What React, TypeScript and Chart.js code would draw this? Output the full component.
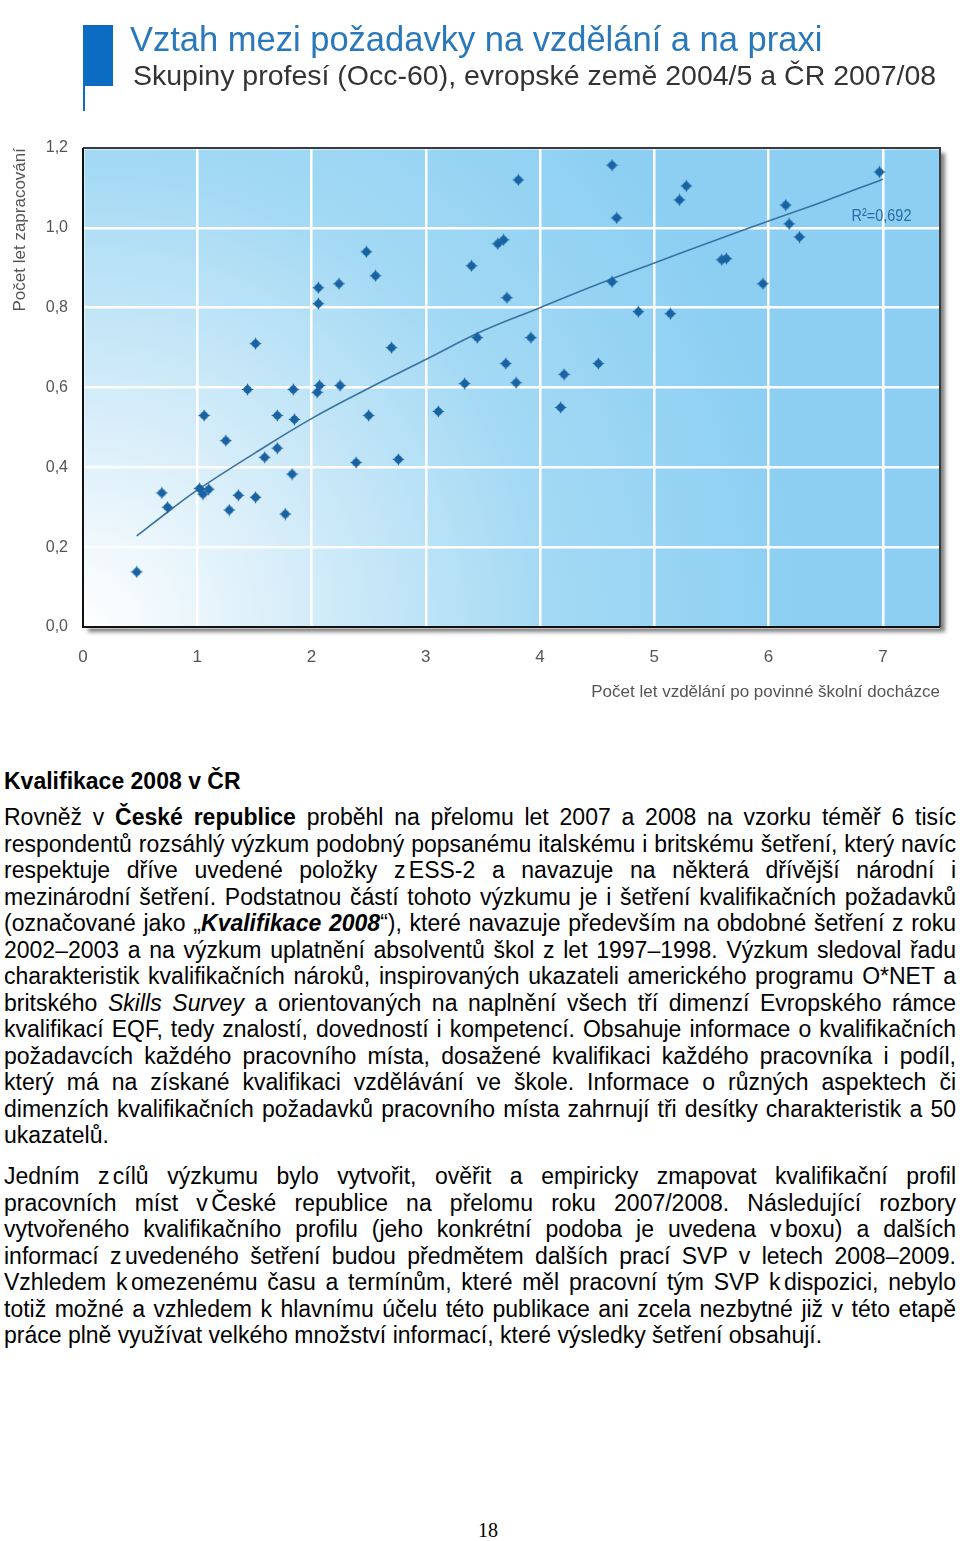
import React, { useEffect, useRef } from 'react';
import { Chart, registerables } from 'chart.js';

Chart.register(...registerables);

// ---- chart data ----
const occX = [
  0.47, 0.69, 0.74, 1.02, 1.05, 1.10, 1.06, 1.25, 1.28, 1.36,
  1.44, 1.51, 1.51, 1.59, 1.70, 1.70, 1.77, 1.83, 1.84, 1.85,
  2.05, 2.07, 2.06, 2.06, 2.24, 2.25, 2.39, 2.48, 2.50, 2.56,
  2.70, 2.76, 3.11, 3.34, 3.40, 3.45, 3.63, 3.68, 3.70, 3.71,
  3.79, 3.81, 3.92, 4.18, 4.21, 4.51, 4.63, 4.63, 4.67, 4.86,
  5.14, 5.22, 5.28, 5.59, 5.63, 5.95, 6.15, 6.18, 6.27, 6.97,
];
const occY = [
  0.138, 0.336, 0.300, 0.347, 0.333, 0.345, 0.530, 0.467, 0.293, 0.330,
  0.595, 0.710, 0.325, 0.425, 0.530, 0.448, 0.283, 0.383, 0.595, 0.520,
  0.588, 0.605, 0.810, 0.850, 0.860, 0.605, 0.412, 0.940, 0.530, 0.880,
  0.700, 0.420, 0.540, 0.610, 0.905, 0.725, 0.960, 0.970, 0.660, 0.825,
  0.612, 1.120, 0.725, 0.550, 0.633, 0.660, 1.157, 0.865, 1.025, 0.790,
  0.785, 1.070, 1.105, 0.920, 0.923, 0.860, 1.057, 1.010, 0.977, 1.140,
];
const trendX = [0.47, 0.75, 1, 1.5, 2, 2.5, 3, 3.5, 4, 4.5, 5, 5.5, 6, 6.5, 7];
const trendY = [0.228, 0.29, 0.343, 0.435, 0.522, 0.598, 0.67, 0.742, 0.8, 0.858, 0.912, 0.965, 1.017, 1.068, 1.122];
const xTickValues = [0, 1, 2, 3, 4, 5, 6, 7];
const yTickValues = [0, 0.2, 0.4, 0.6, 0.8, 1.0, 1.2];
const xRange = [0, 7.5];
const yRange = [0, 1.2];
const r2Label = 'R²=0,692';
const r2Pos = [7.25, 1.03];

const chartTitle = 'Vztah mezi požadavky na vzdělání a na praxi';
const chartSubtitle = 'Skupiny profesí (Occ-60), evropské země 2004/5 a ČR 2007/08';
const xAxisTitle = 'Počet let vzdělání po povinné školní docházce';
const yAxisTitle = 'Počet let zapracování';

const FONT = "'Liberation Sans', Arial, sans-serif";

function makeMarker(color: string) {
  const c = document.createElement('canvas');
  c.width = 13;
  c.height = 13;
  const g = c.getContext('2d')!;
  g.fillStyle = color;
  g.beginPath();
  g.moveTo(6.5, 0.3);
  g.lineTo(8.6, 4.4);
  g.lineTo(12.7, 6.5);
  g.lineTo(8.6, 8.6);
  g.lineTo(6.5, 12.7);
  g.lineTo(4.4, 8.6);
  g.lineTo(0.3, 6.5);
  g.lineTo(4.4, 4.4);
  g.closePath();
  g.fill();
  g.beginPath();
  g.arc(6.5, 6.5, 3.8, 0, Math.PI * 2);
  g.fill();
  return c;
}

const plotDecor = {
  id: 'plotDecor',
  beforeDraw(chart: any) {
    const { ctx, chartArea: a } = chart;
    const w = a.right - a.left;
    const h = a.bottom - a.top;
    ctx.save();
    const grad = ctx.createRadialGradient(a.left, a.bottom, 0, a.left, a.bottom, 720);
    grad.addColorStop(0, '#ffffff');
    grad.addColorStop(0.3, '#d6edf9');
    grad.addColorStop(0.65, '#a3d9f4');
    grad.addColorStop(1, '#8ccff2');
    ctx.shadowColor = 'rgba(0,0,0,0.5)';
    ctx.shadowBlur = 4;
    ctx.shadowOffsetX = 5;
    ctx.shadowOffsetY = 5;
    ctx.fillStyle = grad;
    ctx.fillRect(a.left, a.top, w, h);
    ctx.restore();
  },
  afterDraw(chart: any) {
    const { ctx, chartArea: a, scales } = chart;
    ctx.save();
    ctx.lineWidth = 2;
    ctx.strokeStyle = '#3a3a3a';
    ctx.beginPath();
    ctx.moveTo(a.left, a.top);
    ctx.lineTo(a.right, a.top);
    ctx.lineTo(a.right, a.bottom);
    ctx.stroke();
    ctx.strokeStyle = '#111111';
    ctx.beginPath();
    ctx.moveTo(a.left, a.top);
    ctx.lineTo(a.left, a.bottom);
    ctx.lineTo(a.right, a.bottom);
    ctx.stroke();
    // R² label
    const px = scales.x.getPixelForValue(r2Pos[0]);
    const py = scales.y.getPixelForValue(r2Pos[1]);
    ctx.translate(px, py);
    ctx.scale(0.85, 1);
    ctx.font = `17px ${FONT}`;
    ctx.fillStyle = '#2a6aa5';
    ctx.textAlign = 'right';
    ctx.textBaseline = 'middle';
    ctx.fillText(r2Label, 0, 0);
    ctx.restore();
  },
};

const NB = ({ children }: { children: React.ReactNode }) => (
  <span style={{ display: 'inline-block', wordSpacing: '-3px' }}>{children}</span>
);

const Line = ({ children, last }: { children: React.ReactNode; last?: boolean }) => (
  <div style={{ textAlign: 'justify', textAlignLast: last ? 'left' : 'justify', height: 26.5 } as any}>
    {children}
  </div>
);

export default function App() {
  const ref = useRef<HTMLCanvasElement>(null);

  useEffect(() => {
    if (!ref.current) return;
    const marker = makeMarker('#1a63a3');
    const scatterData = occX.map((x, i) => ({ x, y: occY[i] }));
    const trendData = trendX.map((x, i) => ({ x, y: trendY[i] }));
    const chart = new Chart(ref.current, {
      type: 'scatter',
      data: {
        datasets: [
          {
            type: 'line',
            label: 'trend',
            data: trendData,
            showLine: true,
            borderColor: '#3a72a3',
            borderWidth: 1.6,
            pointRadius: 0,
            tension: 0.4,
            fill: false,
            order: 2,
          } as any,
          {
            label: 'Occ-60',
            data: scatterData,
            pointStyle: marker as any,
            pointRadius: 6,
            backgroundColor: '#1a63a3',
            borderColor: '#1a63a3',
            order: 1,
          },
        ],
      },
      options: {
        animation: false,
        responsive: false,
        maintainAspectRatio: false,
        layout: { padding: { left: 8, right: 20, top: 148, bottom: 13 } },
        plugins: {
          legend: { display: false },
          tooltip: { enabled: false },
        },
        scales: {
          x: {
            type: 'linear',
            min: xRange[0],
            max: xRange[1],
            afterBuildTicks: (s: any) => {
              s.ticks = xTickValues.map((v) => ({ value: v }));
            },
            afterFit: (s: any) => {
              s.height = 80;
            },
            ticks: {
              color: '#555555',
              font: { family: FONT, size: 17 },
              padding: 20,
              maxRotation: 0,
              autoSkip: false,
              callback: (v: any) => String(v),
            },
            grid: { color: '#ffffff', lineWidth: 2.5, drawTicks: false },
            border: { display: false },
            title: {
              display: true,
              text: xAxisTitle,
              align: 'end',
              color: '#555555',
              font: { family: FONT, size: 17 },
              padding: { top: 4, bottom: 4 },
            },
          },
          y: {
            type: 'linear',
            min: yRange[0],
            max: yRange[1],
            afterBuildTicks: (s: any) => {
              s.ticks = yTickValues.map((v) => ({ value: v }));
            },
            afterFit: (s: any) => {
              s.width = 75;
            },
            ticks: {
              color: '#555555',
              font: { family: FONT, size: 16 },
              padding: 15,
              callback: (v: any) => Number(v).toFixed(1).replace('.', ','),
            },
            grid: { color: '#ffffff', lineWidth: 2.5, drawTicks: false },
            border: { display: false },
            title: {
              display: true,
              text: yAxisTitle,
              align: 'end',
              color: '#555555',
              font: { family: FONT, size: 17 },
              padding: { top: 2, bottom: 2 },
            },
          },
        },
      } as any,
      plugins: [plotDecor],
    });
    return () => chart.destroy();
  }, []);

  return (
    <div
      style={{
        position: 'absolute',
        left: 0,
        top: 0,
        width: 960,
        height: 1541,
        background: '#ffffff',
        fontFamily: FONT,
        color: '#000',
      }}
    >
      <canvas
        ref={ref}
        width={960}
        height={720}
        style={{ position: 'absolute', left: 0, top: 0, width: 960, height: 720 }}
      />
      <div style={{ position: 'absolute', left: 83, top: 25, width: 30, height: 61, background: '#0b6cc1' }} />
      <div style={{ position: 'absolute', left: 83, top: 25, width: 2, height: 86, background: '#0b6cc1' }} />
      <div
        style={{
          position: 'absolute',
          left: 130,
          top: 22,
          fontSize: 34.5,
          lineHeight: '34.5px',
          color: '#2878bb',
          whiteSpace: 'nowrap',
        }}
      >
        {chartTitle}
      </div>
      <div
        style={{
          position: 'absolute',
          left: 133,
          top: 60.5,
          fontSize: 28.5,
          lineHeight: '28.5px',
          color: '#333333',
          whiteSpace: 'nowrap',
        }}
      >
        {chartSubtitle}
      </div>

      <div style={{ position: 'absolute', left: 4, width: 952, top: 767.5, fontSize: 23, lineHeight: '26.5px', fontWeight: 'bold' }}>
        Kvalifikace 2008 v ČR
      </div>

      <div style={{ position: 'absolute', left: 4, width: 952, top: 804, fontSize: 23, lineHeight: '26.5px' }}>
        <Line>
          Rovněž v <b>České republice</b> proběhl na přelomu let 2007 a 2008 na vzorku téměř 6 tisíc
        </Line>
        <Line>respondentů rozsáhlý výzkum podobný popsanému italskému i britskému šetření, který navíc</Line>
        <Line>
          respektuje dříve uvedené položky <NB>z ESS-2</NB> a navazuje na některá dřívější národní i
        </Line>
        <Line>mezinárodní šetření. Podstatnou částí tohoto výzkumu je i šetření kvalifikačních požadavků</Line>
        <Line>
          (označované jako „<b><i>Kvalifikace 2008</i></b>“), které navazuje především na obdobné šetření z roku
        </Line>
        <Line>2002–2003 a na výzkum uplatnění absolventů škol z let 1997–1998. Výzkum sledoval řadu</Line>
        <Line>charakteristik kvalifikačních nároků, inspirovaných ukazateli amerického programu O*NET a</Line>
        <Line>
          britského <i>Skills Survey</i> a orientovaných na naplnění všech tří dimenzí Evropského rámce
        </Line>
        <Line>kvalifikací EQF, tedy znalostí, dovedností i kompetencí. Obsahuje informace o kvalifikačních</Line>
        <Line>požadavcích každého pracovního místa, dosažené kvalifikaci každého pracovníka i podíl,</Line>
        <Line>který má na získané kvalifikaci vzdělávání ve škole. Informace o různých aspektech či</Line>
        <Line>dimenzích kvalifikačních požadavků pracovního místa zahrnují tři desítky charakteristik a 50</Line>
        <Line last>ukazatelů.</Line>
      </div>

      <div style={{ position: 'absolute', left: 4, width: 952, top: 1163, fontSize: 23, lineHeight: '26.5px' }}>
        <Line>
          Jedním <NB>z cílů</NB> výzkumu bylo vytvořit, ověřit a empiricky zmapovat kvalifikační profil
        </Line>
        <Line>
          pracovních míst <NB>v České</NB> republice na přelomu roku 2007/2008. Následující rozbory
        </Line>
        <Line>
          vytvořeného kvalifikačního profilu (jeho konkrétní podoba je uvedena <NB>v boxu</NB>) a dalších
        </Line>
        <Line>
          informací <NB>z uvedeného</NB> šetření budou předmětem dalších prací SVP v letech 2008–2009.
        </Line>
        <Line>
          Vzhledem <NB>k omezenému</NB> času a termínům, které měl pracovní tým SVP <NB>k dispozici</NB>, nebylo
        </Line>
        <Line>totiž možné a vzhledem k hlavnímu účelu této publikace ani zcela nezbytné již v této etapě</Line>
        <Line last>práce plně využívat velkého množství informací, které výsledky šetření obsahují.</Line>
      </div>

      <div
        style={{
          position: 'absolute',
          left: 0,
          width: 976,
          top: 1518,
          textAlign: 'center',
          fontFamily: "'Liberation Serif', 'Times New Roman', serif",
          fontSize: 20,
          lineHeight: '24px',
        }}
      >
        18
      </div>
    </div>
  );
}
